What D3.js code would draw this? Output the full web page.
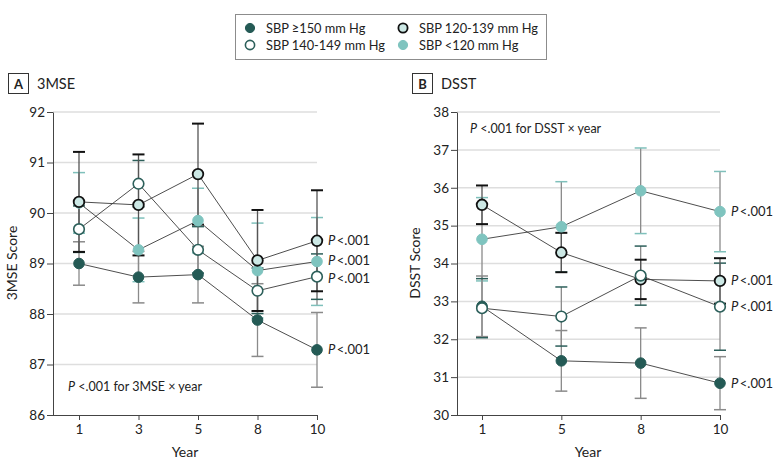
<!DOCTYPE html>
<html><head><meta charset="utf-8">
<script src="https://cdn.jsdelivr.net/npm/d3@7"></script>
<style>
body{margin:0;background:#fff;}
svg{font-family:Lato,"Open Sans",sans-serif;}
</style></head>
<body><svg id="c" width="783" height="470"></svg>
<script>
// ---- data ----
const seriesNames = ["SBP \u2265150 mm Hg","SBP 140-149 mm Hg","SBP 120-139 mm Hg","SBP <120 mm Hg"];
const yearsMSE = [1,3,5,8,10];
const mseGe150 = [89.00, 88.73, 88.78, 87.88, 87.29];
const mseGe150Err = [0.43, 0.51, 0.56, 0.72, 0.74];
const mse140 = [89.68, 90.58, 89.27, 88.46, 88.74];
const mse140Err = [0.46, 0.46, 0.46, 0.45, 0.45];
const mse120 = [90.22, 90.16, 90.77, 89.06, 89.45];
const mse120Err = [0.99, 1.00, 1.00, 1.00, 1.00];
const mseLt120 = [90.20, 89.27, 89.85, 88.86, 89.04];
const mseLt120Err = [0.60, 0.63, 0.64, 0.94, 0.87];
const mseTicks = [86,87,88,89,90,91,92];

const yearsDSST = [1,5,8,10];
const dsstGe150 = [32.87, 31.43, 31.37, 30.84];
const dsstGe150Err = [0.80, 0.80, 0.93, 0.70];
const dsst140 = [32.82, 32.60, 33.68, 32.86];
const dsst140Err = [0.78, 0.78, 0.78, 1.15];
const dsst120 = [35.55, 34.29, 33.58, 33.54];
const dsst120Err = [0.51, 0.52, 0.52, 0.60];
const dsstLt120 = [34.64, 34.97, 35.92, 35.37];
const dsstLt120Err = [1.10, 1.19, 1.13, 1.06];
const dsstTicks = [30,31,32,33,34,35,36,37,38];

// ---- styles ----
const styles = [
  {fill:"#245a55", stroke:"#245a55", sw:1, err:"#8a8a8a"},   // >=150
  {fill:"#ffffff", stroke:"#2c5f5a", sw:1.6, err:"#2c5f5a"},  // 140-149
  {fill:"#cce8e5", stroke:"#111111", sw:1.8, err:"#111111"},  // 120-139
  {fill:"#7fc4bf", stroke:"#7fc4bf", sw:1, err:"#7fc0bb"}     // <120
];
const drawOrder = [0,3,2,1];
const errOrder = [0,3,1,2];

const svg = d3.select("#c");
const txt = "#222";

// legend
const lg = svg.append("g");
lg.append("rect").attr("x",235.5).attr("y",14.5).attr("width",311).attr("height",45)
  .attr("fill","#fff").attr("stroke","#8c8c8c").attr("stroke-width",1);
const legPos = [[250,28],[250,45],[403,28],[403,45]];
seriesNames.forEach((n,i)=>{
  const [cx,cy]=legPos[i];
  lg.append("circle").attr("cx",cx).attr("cy",cy).attr("r",4.6)
    .attr("fill",styles[i].fill).attr("stroke",styles[i].stroke).attr("stroke-width",styles[i].sw);
  lg.append("text").attr("x",cx+16).attr("y",cy+4.5).attr("font-size",12.8).attr("fill",txt).text(n);
});

function panel(opt){
  const g = svg.append("g");
  // panel label
  g.append("rect").attr("x",opt.boxX+0.5).attr("y",73.5).attr("width",20).attr("height",20)
    .attr("fill","#fff").attr("stroke","#333").attr("stroke-width",1);
  g.append("text").attr("x",opt.boxX+10.5).attr("y",88.5).attr("text-anchor","middle")
    .attr("font-size",13).attr("font-weight","bold").attr("fill",txt).text(opt.letter);
  g.append("text").attr("x",opt.boxX+29).attr("y",89).attr("font-size",14.5).attr("fill",txt).text(opt.title);

  const x = d3.scalePoint().domain(opt.years).range([opt.x0, opt.x1]);
  const y = d3.scaleLinear().domain(opt.ydom).range([415,112]);

  // gridlines
  g.append("g").selectAll("line").data(opt.ticks.slice(1)).join("line")
    .attr("x1",opt.axX).attr("x2",opt.x1).attr("y1",d=>y(d)).attr("y2",d=>y(d))
    .attr("stroke","#dedede").attr("stroke-width",1.5);

  // y axis
  const ya = g.append("g").attr("transform",`translate(${opt.axX},0)`)
    .call(d3.axisLeft(y).tickValues(opt.ticks).tickFormat(d3.format("d")).tickSize(6).tickSizeOuter(0).tickPadding(2));
  ya.select(".domain").attr("stroke","#444");
  ya.selectAll(".tick line").attr("stroke","#444");
  ya.selectAll("text").attr("font-size",13.5).attr("fill",txt).attr("font-family","Lato, sans-serif");

  // x axis
  const xa = g.append("g").attr("transform","translate(0,415)")
    .call(d3.axisBottom(x).tickSize(5).tickSizeOuter(0).tickPadding(4));
  xa.select(".domain").remove();
  xa.selectAll(".tick line").attr("stroke","#444");
  xa.selectAll("text").attr("font-size",13.5).attr("fill",txt).attr("font-family","Lato, sans-serif");
  g.append("line").attr("x1",opt.axX).attr("x2",opt.x1+0.5).attr("y1",415.5).attr("y2",415.5)
    .attr("stroke","#444").attr("stroke-width",1);

  // axis titles
  g.append("text").attr("x",opt.yLabX).attr("y",263).attr("transform",`rotate(-90,${opt.yLabX},263)`)
    .attr("text-anchor","middle").attr("font-size",14).attr("fill",txt).text(opt.yLabel);
  g.append("text").attr("x",opt.xLabX).attr("y",457).attr("text-anchor","middle")
    .attr("font-size",14).attr("fill",txt).text("Year");

  // annotation
  const an = g.append("text").attr("x",opt.annX).attr("y",opt.annY).attr("font-size",12.5).attr("fill",txt);
  an.append("tspan").attr("font-style","italic").text("P");
  an.append("tspan").text(" <.001 for " + opt.title + " \u00d7 year");

  const cap = 6;
  // error bars
  errOrder.forEach(si=>{
    const vals = opt.data[si], errs = opt.errs[si];
    const eg = g.append("g");
    opt.years.forEach((yr,k)=>{
      const cx = x(yr), hi = y(vals[k]+errs[k]), lo = y(vals[k]-errs[k]);
      eg.append("line").attr("x1",cx).attr("x2",cx).attr("y1",hi).attr("y2",lo)
        .attr("stroke",si===2?"#555":"#8a8a8a").attr("stroke-width",1.3);
      [hi,lo].forEach(yy=>eg.append("line").attr("x1",cx-cap).attr("x2",cx+cap).attr("y1",yy).attr("y2",yy)
        .attr("stroke",styles[si].err).attr("stroke-width",si===2?2:1.5));
    });
  });

  // lines + points
  drawOrder.forEach(si=>{
    const vals = opt.data[si];
    const pts = opt.years.map((yr,k)=>[x(yr), y(vals[k])]);
    g.append("path").attr("d",d3.line()(pts)).attr("fill","none").attr("stroke","#3a3a3a").attr("stroke-width",0.9);
  });
  drawOrder.forEach(si=>{
    const vals = opt.data[si];
    g.append("g").selectAll("circle").data(opt.years).join("circle")
      .attr("cx",d=>x(d)).attr("cy",(d,k)=>y(vals[k])).attr("r",5.3)
      .attr("fill",styles[si].fill).attr("stroke",styles[si].stroke).attr("stroke-width",styles[si].sw);
  });

  // P labels
  [0,1,2,3].forEach(si=>{
    const vals = opt.data[si];
    const t = g.append("text").attr("x",opt.x1+11).attr("y",y(vals[vals.length-1])+4.5+opt.nudge[si])
      .attr("font-size",13).attr("fill",txt);
    t.append("tspan").attr("font-style","italic").text("P");
    t.append("tspan").attr("dx",1.5).text("<.001");
  });
}

panel({letter:"A", title:"3MSE", boxX:8, years:yearsMSE, x0:79, x1:317, axX:53, ydom:[86,92], ticks:mseTicks,
  yLabel:"3MSE Score", yLabX:17, xLabX:185, annX:68, annY:391, nudge:[0,1.5,-0.5,-1],
  data:[mseGe150,mse140,mse120,mseLt120], errs:[mseGe150Err,mse140Err,mse120Err,mseLt120Err]});
panel({letter:"B", title:"DSST", boxX:412, years:yearsDSST, x0:482, x1:720, axX:457, ydom:[30,38], ticks:dsstTicks,
  yLabel:"DSST Score", yLabX:420, xLabX:588, annX:470, annY:133, nudge:[0,0,0,0],
  data:[dsstGe150,dsst140,dsst120,dsstLt120], errs:[dsstGe150Err,dsst140Err,dsst120Err,dsstLt120Err]});
</script></body></html>
